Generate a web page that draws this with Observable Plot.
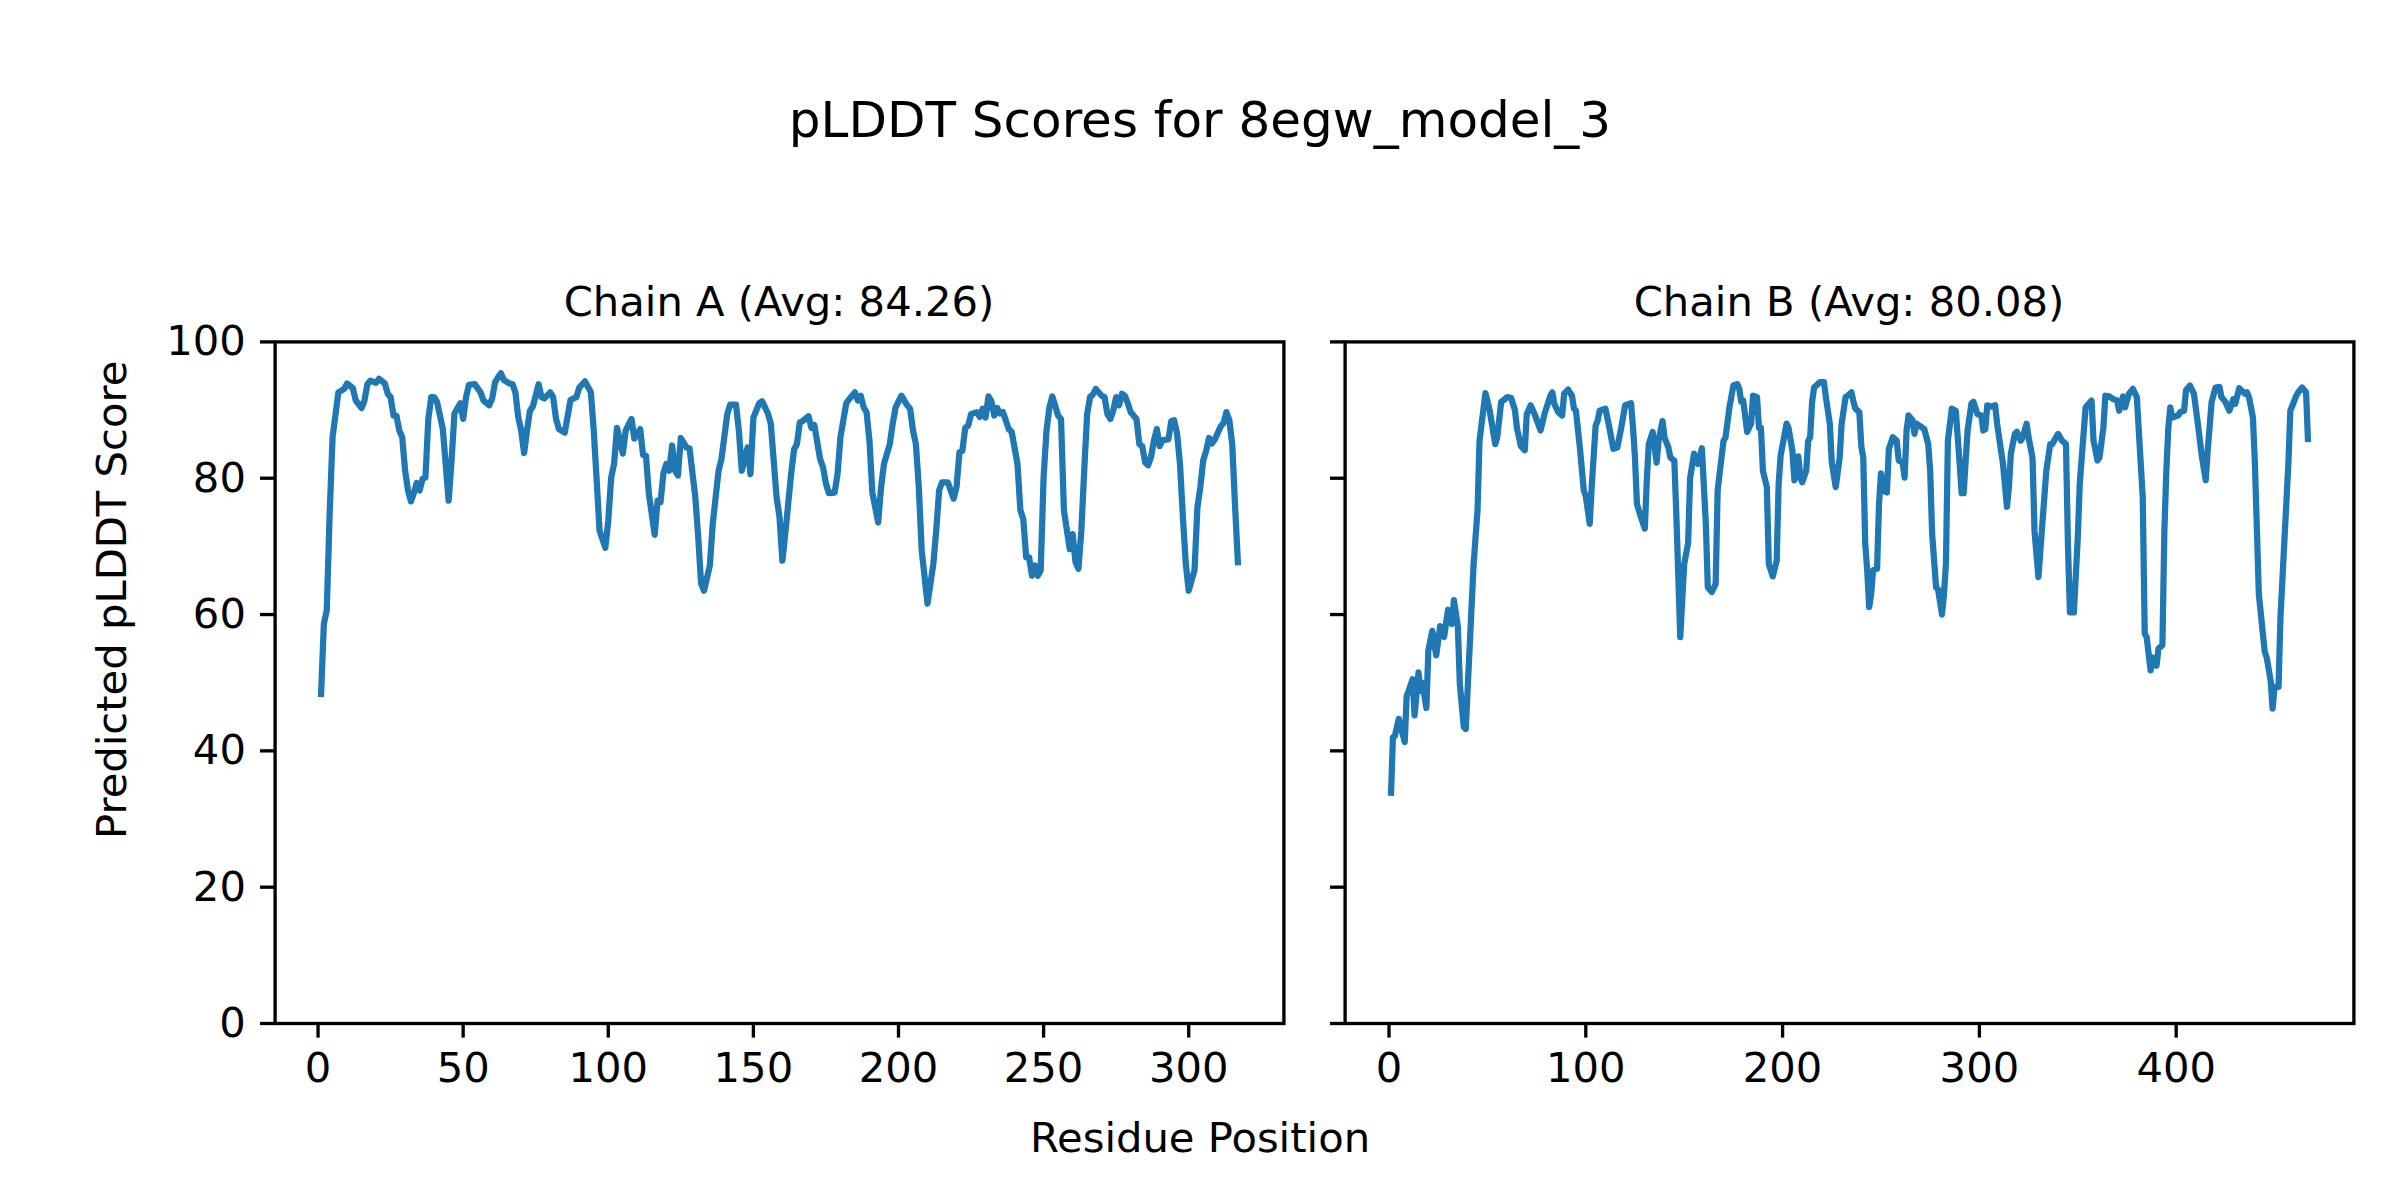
<!DOCTYPE html>
<html>
<head>
<meta charset="utf-8">
<script src="https://cdn.jsdelivr.net/npm/d3@7"></script>
<script src="https://cdn.jsdelivr.net/npm/@observablehq/plot@0.6"></script>
<style>
  body { margin: 0; background: #fff; }
  #fig { position: relative; width: 2400px; height: 1200px; background: #fff; overflow: hidden;
         font-family: "DejaVu Sans", sans-serif; color: #000; }
  .t { position: absolute; white-space: nowrap; line-height: 1; text-align: center; }
  .p { position: absolute; top: 0; }
</style>
</head>
<body>
<div id="fig"></div>
<script>
// ---------- data ----------
const figureTitle = "pLDDT Scores for 8egw_model_3";
const chainTitles = ["Chain A (Avg: 84.26)", "Chain B (Avg: 80.08)"];
const xAxisLabel = "Residue Position";
const yAxisLabel = "Predicted pLDDT Score";
const yTicks = [0, 20, 40, 60, 80, 100];
const xTicksA = [0, 50, 100, 150, 200, 250, 300];
const xTicksB = [0, 100, 200, 300, 400];

// [residue, pLDDT]
const chainA = [
[1,47.9],[2,58.6],[3,60.6],[4,74.8],[5,86.0],[7,92.6],[9,93.1],[10,93.9],[12,93.2],[13,91.4],[15,90.3],[16,91.4],[17,93.8],[18,94.3],[20,94.0],[21,94.6],[23,93.9],[24,92.4],[25,91.9],[26,89.2],[27,89.2],[28,87.0],[29,86.0],[30,81.1],[31,78.2],[32,76.6],[33,77.8],[34,79.3],[35,78.2],[36,79.9],[37,80.1],[38,88.7],[39,91.9],[40,91.9],[41,91.2],[43,87.2],[45,76.7],[46,82.6],[47,89.5],[49,91.0],[50,88.7],[51,91.9],[52,93.7],[54,93.8],[56,92.6],[57,91.4],[59,90.7],[60,91.7],[61,94.1],[62,94.8],[63,95.4],[64,94.4],[66,93.9],[67,93.8],[68,92.6],[69,88.9],[70,87.0],[71,83.7],[72,87.0],[73,89.9],[74,90.5],[76,93.8],[77,91.9],[78,91.7],[80,92.6],[81,91.9],[82,88.7],[83,87.2],[85,86.7],[86,89.1],[87,91.5],[89,91.9],[90,93.3],[92,94.2],[94,92.6],[95,87.0],[96,79.7],[97,72.3],[99,69.8],[100,73.8],[101,80.1],[102,82.1],[103,87.4],[105,83.6],[106,87.0],[108,88.7],[109,85.8],[111,87.2],[112,83.4],[113,83.3],[114,77.7],[116,71.7],[117,76.7],[118,76.5],[119,80.7],[120,82.1],[121,81.1],[122,84.8],[123,81.1],[124,80.4],[125,85.9],[127,84.5],[128,84.4],[130,77.2],[131,71.3],[132,64.5],[133,63.5],[135,67.2],[136,73.3],[138,81.1],[139,82.8],[141,89.4],[142,90.8],[144,90.8],[145,87.0],[146,81.1],[148,84.5],[149,80.6],[150,88.9],[152,91.0],[153,91.3],[155,89.5],[156,88.0],[158,77.2],[159,74.3],[160,67.9],[161,71.9],[163,80.6],[164,84.2],[165,85.0],[166,88.2],[167,88.4],[169,89.1],[170,87.4],[171,87.8],[173,82.8],[174,81.6],[175,79.2],[176,77.8],[178,77.9],[179,80.6],[180,86.0],[182,91.0],[183,91.6],[185,92.6],[186,91.4],[187,92.1],[188,90.4],[189,89.7],[190,85.5],[191,77.9],[193,73.5],[194,78.7],[195,82.1],[197,85.0],[198,88.0],[199,90.4],[201,92.1],[203,90.7],[204,90.2],[205,87.0],[206,85.0],[207,78.7],[208,69.4],[210,61.6],[212,67.4],[213,72.3],[214,78.2],[215,79.4],[217,79.4],[219,77.0],[220,78.7],[221,83.8],[222,84.0],[223,87.4],[224,87.7],[225,89.4],[227,89.7],[228,89.0],[229,90.2],[230,88.9],[231,92.0],[232,91.3],[233,89.2],[234,90.3],[235,89.5],[236,89.7],[238,87.2],[239,86.8],[241,82.1],[242,75.3],[243,74.0],[244,68.4],[245,68.4],[246,65.7],[247,67.2],[248,65.7],[249,66.5],[250,80.1],[251,87.0],[252,90.4],[253,92.0],[255,89.2],[256,88.7],[257,75.3],[259,69.6],[260,71.8],[261,67.7],[262,66.7],[263,72.3],[264,81.1],[265,89.4],[266,91.9],[267,92.3],[268,93.1],[270,92.1],[271,91.9],[272,89.4],[273,88.7],[274,89.9],[275,91.9],[276,90.7],[277,92.4],[278,92.1],[279,91.0],[280,89.7],[282,88.7],[283,85.0],[284,84.7],[285,82.3],[286,81.9],[287,83.1],[288,85.5],[289,87.2],[290,84.7],[291,85.6],[293,85.7],[294,88.4],[295,88.5],[296,86.5],[297,82.1],[298,74.3],[299,67.4],[300,63.5],[302,66.5],[303,75.7],[304,78.7],[305,82.6],[306,84.0],[307,85.9],[308,85.1],[309,85.7],[311,87.6],[312,88.1],[313,89.7],[314,88.5],[315,85.0],[316,75.7],[317,67.2]
];

const chainB = [
[1,33.4],[2,42.0],[3,42.2],[5,44.7],[6,43.5],[8,41.3],[9,48.1],[10,48.8],[12,50.5],[13,45.2],[15,51.5],[16,48.8],[17,50.0],[19,46.3],[20,54.7],[22,57.6],[24,54.0],[26,58.3],[28,56.7],[30,60.7],[32,58.6],[33,62.1],[35,58.2],[36,49.8],[38,43.5],[39,43.2],[41,55.3],[43,67.4],[45,75.3],[46,85.5],[49,92.5],[51,90.2],[54,85.0],[55,86.0],[57,91.2],[58,91.4],[60,91.9],[62,91.8],[64,90.0],[65,87.4],[67,84.7],[69,84.1],[70,89.4],[72,90.7],[74,89.4],[77,87.0],[79,89.4],[82,92.1],[83,92.6],[84,90.9],[86,89.7],[88,89.2],[89,92.4],[91,93.0],[93,92.1],[94,90.2],[95,89.9],[97,84.5],[99,78.2],[100,77.4],[102,73.3],[103,78.7],[105,87.7],[106,88.4],[107,89.9],[110,90.2],[112,87.4],[114,84.3],[116,84.5],[118,87.4],[120,90.7],[123,91.0],[124,87.4],[125,83.0],[126,76.2],[128,74.3],[130,72.6],[131,79.7],[132,85.0],[134,86.8],[136,82.3],[137,85.5],[139,88.4],[140,86.0],[142,84.5],[143,83.0],[145,82.6],[146,74.7],[148,56.7],[150,67.4],[152,70.5],[153,80.0],[155,83.6],[157,82.1],[159,84.4],[161,73.3],[162,64.0],[164,63.3],[166,64.5],[167,78.2],[170,85.5],[171,86.0],[173,90.4],[175,93.6],[177,93.8],[178,93.1],[179,91.2],[180,91.4],[182,86.8],[184,88.0],[185,92.1],[187,91.9],[188,87.4],[189,87.4],[190,81.1],[192,78.7],[193,67.4],[195,65.6],[197,67.9],[198,79.2],[199,83.3],[202,88.0],[203,87.4],[205,84.0],[206,79.7],[208,83.2],[209,80.1],[210,79.4],[212,81.1],[213,85.5],[214,86.0],[215,91.2],[216,93.3],[219,94.1],[221,94.1],[222,91.9],[224,88.0],[225,82.3],[227,78.7],[229,83.0],[230,88.0],[232,91.9],[233,92.1],[235,92.6],[236,91.2],[237,90.2],[239,89.7],[240,84.7],[241,83.0],[242,70.3],[243,66.5],[244,61.1],[245,63.0],[246,66.5],[248,66.7],[249,76.2],[250,80.7],[251,78.2],[253,77.9],[254,84.3],[256,86.0],[258,85.5],[259,82.6],[261,82.3],[262,80.1],[263,87.0],[264,89.2],[266,88.5],[267,86.5],[268,88.0],[270,87.6],[272,87.2],[274,85.0],[275,81.1],[276,71.8],[278,64.0],[279,63.7],[281,60.0],[282,63.0],[283,67.4],[284,85.5],[286,90.2],[288,89.9],[290,82.1],[291,77.8],[292,77.8],[294,87.0],[296,91.0],[297,91.2],[299,89.4],[301,89.2],[302,87.0],[303,87.2],[304,90.7],[306,90.5],[308,90.7],[309,88.0],[310,86.0],[312,82.1],[314,75.8],[315,78.7],[316,83.6],[318,86.5],[319,86.8],[321,85.5],[322,86.0],[324,88.0],[325,86.0],[327,83.0],[328,72.3],[330,65.5],[332,73.3],[334,81.1],[336,85.0],[337,85.0],[340,86.5],[342,85.5],[344,85.0],[345,70.3],[346,60.3],[348,60.3],[350,71.3],[351,79.2],[352,83.0],[354,90.4],[357,91.4],[358,85.5],[360,82.6],[361,83.0],[363,87.4],[364,92.1],[366,92.0],[368,91.6],[370,91.4],[371,89.9],[373,92.0],[374,90.4],[376,92.4],[378,93.1],[380,91.9],[381,87.0],[383,77.2],[384,57.2],[385,56.7],[387,51.8],[388,53.7],[390,52.5],[391,55.0],[393,55.5],[394,72.3],[395,81.1],[396,87.4],[397,90.4],[398,88.9],[401,89.2],[402,89.7],[404,89.9],[405,92.9],[407,93.6],[409,92.4],[411,88.0],[413,83.3],[415,79.7],[416,84.0],[418,91.2],[420,93.3],[422,93.4],[423,91.9],[425,91.2],[427,89.9],[429,91.6],[430,90.9],[432,93.2],[435,92.4],[436,92.6],[437,91.9],[439,88.9],[440,82.1],[442,63.0],[445,54.5],[446,53.7],[448,50.3],[449,46.2],[450,49.4],[452,49.4],[453,59.7],[455,70.9],[457,82.1],[458,89.9],[461,92.1],[462,92.6],[464,93.3],[466,92.6],[467,85.3]
];

// ---------- layout (px, in a 2400x1200 figure) ----------
const FS = 41.7;            // 10pt at 300 dpi
const TITLE_FS = 50;        // 12pt
const LINE_W = 6.25;        // 1.5pt
const SPINE_W = 3.33;       // 0.8pt
const TICK_LEN = 14.6;      // 3.5pt
const TICK_PAD = 14.6;
const TOP = 341.4, BOTTOM = 1023;
const BLUE = "#1f77b4";

const fig = document.getElementById("fig");

function addText(txt, cx, baseline, size, rotate) {
  const d = document.createElement("div");
  d.className = "t";
  d.textContent = txt;
  d.style.fontSize = size + "px";
  if (rotate) {
    d.style.width = "1000px";
    d.style.height = size + "px";
    d.style.left = (cx - 500) + "px";
    d.style.top = (baseline - size / 2) + "px";
    d.style.transform = "rotate(-90deg)";
    d.style.transformOrigin = "50% 50%";
  } else {
    d.style.width = "1600px";
    d.style.left = (cx - 800) + "px";
    d.style.top = (baseline - 0.846 * size) + "px";
  }
  fig.appendChild(d);
}

function panel(points, xTicks, svgLeft, svgWidth, frameLeft, frameRight, showYLabels) {
  const data = points.map(([residue, score]) => ({residue, score}));
  const [lo, hi] = d3.extent(data, d => d.residue);
  const pad = 0.05 * (hi - lo);
  const chart = Plot.plot({
    width: svgWidth,
    height: 1200,
    marginLeft: frameLeft - svgLeft,
    marginRight: svgLeft + svgWidth - frameRight,
    marginTop: TOP,
    marginBottom: 1200 - BOTTOM,
    style: {fontFamily: "DejaVu Sans, sans-serif", fontSize: FS + "px", color: "#000", background: "transparent", overflow: "visible"},
    x: {domain: [lo - pad, hi + pad]},
    y: {domain: [0, 100]},
    marks: [
      Plot.line(data, {x: "residue", y: "score", stroke: BLUE, strokeWidth: LINE_W, strokeLinejoin: "round", strokeLinecap: "butt"}),
      Plot.axisX({ticks: xTicks, tickSize: TICK_LEN, tickPadding: TICK_PAD, strokeWidth: SPINE_W, fontSize: FS, label: null, tickFormat: d => String(d)}),
      Plot.axisY({ticks: yTicks, tickSize: TICK_LEN, tickPadding: TICK_PAD, strokeWidth: SPINE_W, fontSize: FS, label: null,
                  tickFormat: showYLabels ? (d => String(d)) : (() => "")}),
      Plot.frame({stroke: "#000", strokeWidth: SPINE_W})
    ]
  });
  chart.classList.add("p");
  chart.style.left = svgLeft + "px";
  fig.appendChild(chart);
}

const A = {left: 274.6, right: 1283.4};
const B = {left: 1344.6, right: 2353.4};

panel(chainA, xTicksA, 0, 1300, A.left, A.right, true);
panel(chainB, xTicksB, 1300, 1100, B.left, B.right, false);

addText(figureTitle, 1200, 137, TITLE_FS, false);
addText(chainTitles[0], (A.left + A.right) / 2, 316.4, FS, false);
addText(chainTitles[1], (B.left + B.right) / 2, 316.4, FS, false);
addText(xAxisLabel, 1200, 1152, FS, false);
addText(yAxisLabel, 112, 600, FS, true);
</script>
</body>
</html>
